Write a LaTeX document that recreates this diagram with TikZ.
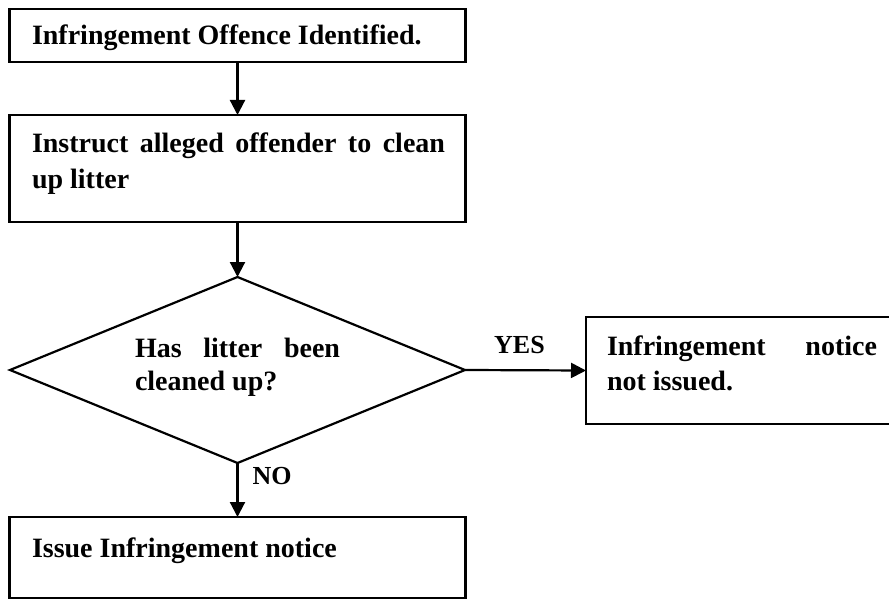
\documentclass[tikz,border=0pt]{standalone}
\usepackage{fontspec}
\setmainfont{Liberation Serif}
\usetikzlibrary{arrows.meta,shapes.geometric}
\begin{document}
\begin{tikzpicture}[x=1pt,y=-1pt,
  every node/.style={inner sep=0pt,outer sep=0pt},
  box/.style={draw,line width=2.2pt,anchor=north west},
  txt/.style={anchor=base west,font=\fontsize{28}{33}\selectfont\bfseries},
  lbl/.style={font=\fontsize{26}{30}\selectfont\bfseries},
  conn/.style={line width=2.2pt,-{Triangle[length=15pt,width=15pt]}},
]
\clip (0,0) rectangle (889,599);
% boxes
\node[box,minimum width=456pt,minimum height=53pt] (b1) at (9.5,9) {};
\node[box,minimum width=456pt,minimum height=107pt] (b2) at (9.5,115) {};
\node[draw,line width=2.2pt,diamond,minimum width=455pt,minimum height=186pt] (dia) at (237.5,370) {};
\node[box,minimum width=312pt,minimum height=107pt] (b3) at (586,317) {};
\node[box,minimum width=456pt,minimum height=81pt] (b4) at (9.5,517) {};
% texts
\node[txt] (t1) at (32,45) {Infringement Offence Identified.};
\node[txt] (t2a) at (32,153) {\makebox[413pt][s]{Instruct alleged offender to clean}};
\node[txt] (t2b) at (32,188) {up litter};
\node[txt] (t3a) at (135,357) {\makebox[205pt][s]{Has litter been}};
\node[txt] (t3b) at (135,390) {cleaned up?};
\node[txt] (t4a) at (607,355) {\makebox[270pt][s]{Infringement notice}};
\node[txt] (t4b) at (607,390) {not issued.};
\node[txt] (t5) at (32,557) {Issue Infringement notice};
% connectors
\draw[conn] (b1.south) -- (b2.north);
\draw[conn] (b2.south) -- (dia.north);
\draw[conn] (dia.east) -- node[lbl,pos=0.45,anchor=base,yshift=17pt] (yes) {YES} (b3.west);
\draw[conn] (dia.south) -- node[lbl,pos=0.4,anchor=base west,xshift=15pt] (no) {NO} (b4.north);
\end{tikzpicture}
\end{document}
